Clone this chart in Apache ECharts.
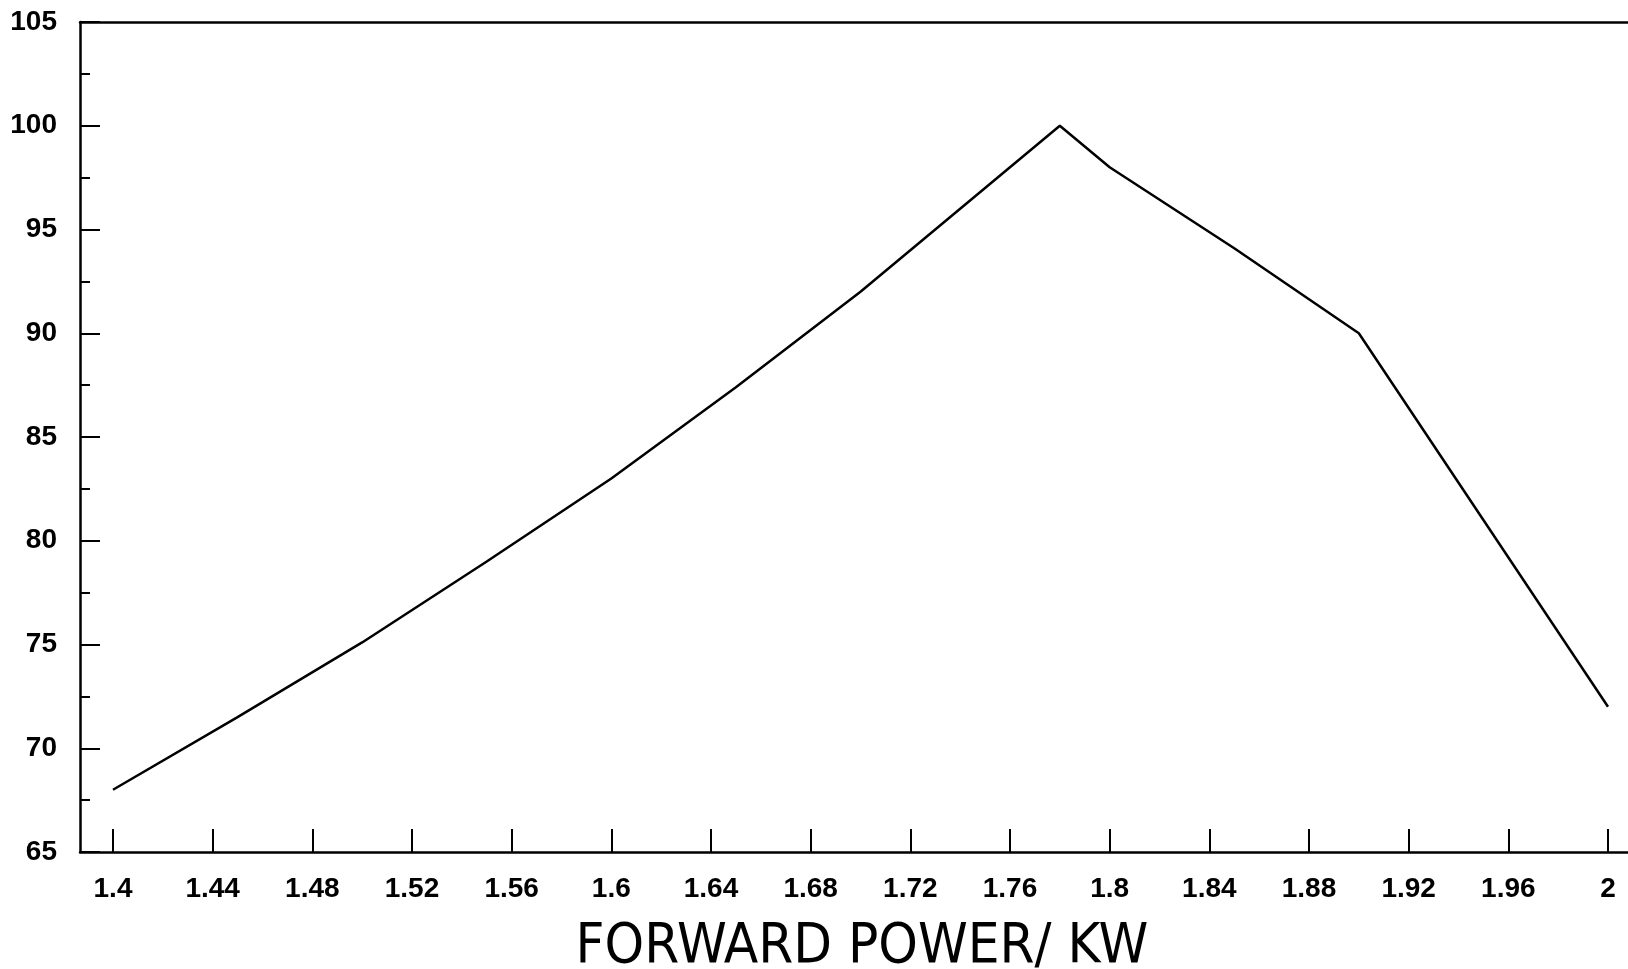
<!DOCTYPE html>
<html>
<head>
<meta charset="utf-8">
<script src="https://cdn.jsdelivr.net/npm/echarts@6/dist/echarts.min.js"></script>
<style>
html,body{margin:0;padding:0;background:#fff;}
#chart{width:1628px;height:969px;}
</style>
</head>
<body>
<div id="chart"></div>
<script>
// Data
const powerKW = [1.4, 1.45, 1.5, 1.55, 1.6, 1.65, 1.7, 1.75, 1.78, 1.8, 1.85, 1.9, 1.95, 2.0];
const values  = [68, 71.5, 75.1, 79.0, 83, 87.4, 92, 97, 100, 98, 94.1, 90, 81, 72];
const xTickValues = [1.4, 1.44, 1.48, 1.52, 1.56, 1.6, 1.64, 1.68, 1.72, 1.76, 1.8, 1.84, 1.88, 1.92, 1.96, 2.0];
const xAxisTitle = 'FORWARD POWER/ KW';
const yMin = 65, yMax = 105, yStep = 5;
const xMin = 1.38676, xMax = 2.00803;

const seriesData = powerKW.map((x, i) => [x, values[i]]);
const fontFam = "'Liberation Sans', Arial, Helvetica, sans-serif";

const chart = echarts.init(document.getElementById('chart'), null, {renderer: 'canvas'});
chart.setOption({
  animation: false,
  backgroundColor: '#ffffff',
  grid: {left: 80, top: 22, right: 0, bottom: 117, containLabel: false, outerBoundsMode: 'none'},
  xAxis: [
    {
      type: 'value',
      position: 'bottom',
      min: xMin,
      max: xMax,
      name: xAxisTitle,
      nameLocation: 'middle',
      nameGap: 67,
      nameTextStyle: {fontFamily: "'Liberation Sans Narrow', 'Arial Narrow', 'DejaVu Sans Condensed', " + fontFam, fontSize: 56, color: '#000', padding: [0, 0, 0, 16]},
      axisLine: {show: true, lineStyle: {color: '#000', width: 2.5}},
      axisTick: {show: true, inside: true, length: 23, lineStyle: {color: '#000', width: 2}, customValues: xTickValues},
      axisLabel: {
        show: true, margin: 23, fontSize: 28, fontWeight: 'bold', color: '#000', fontFamily: fontFam,
        customValues: xTickValues,
        formatter: v => String(+v.toFixed(2))
      },
      splitLine: {show: false},
      minorTick: {show: false}
    },
    {
      type: 'value',
      position: 'top',
      min: xMin,
      max: xMax,
      axisLine: {show: true, lineStyle: {color: '#000', width: 2.5}},
      axisTick: {show: false},
      axisLabel: {show: false},
      splitLine: {show: false}
    }
  ],
  yAxis: {
    type: 'value',
    min: yMin,
    max: yMax,
    interval: yStep,
    axisLine: {show: true, lineStyle: {color: '#000', width: 2.5}},
    axisTick: {show: true, inside: true, length: 20, lineStyle: {color: '#000', width: 2}},
    minorTick: {show: true, splitNumber: 2, length: 10, lineStyle: {color: '#000', width: 2}},
    axisLabel: {show: true, margin: 23, fontSize: 28, fontWeight: 'bold', color: '#000', fontFamily: fontFam},
    splitLine: {show: false}
  },
  series: [{
    type: 'line',
    xAxisIndex: 0,
    data: seriesData,
    showSymbol: false,
    symbol: 'none',
    smooth: false,
    lineStyle: {color: '#000', width: 2.5},
    silent: true
  }]
});
</script>
</body>
</html>
